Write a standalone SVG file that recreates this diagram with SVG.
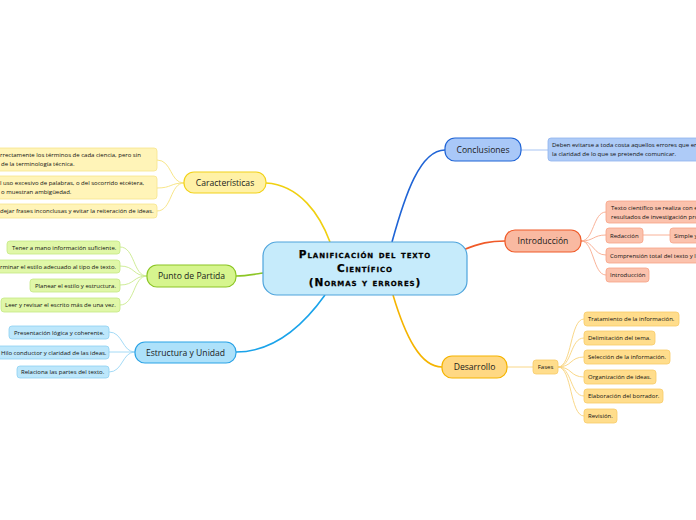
<svg xmlns="http://www.w3.org/2000/svg" width="696" height="520" viewBox="0 0 696 520">
<style>
text{font-family:"Open Sans","Noto Sans","Liberation Sans",sans-serif;fill:#1a1a1a}
.main{font-size:8.6px;text-anchor:middle}
.leaf{font-size:6px;fill:#111}
.title{font-family:"DejaVu Sans","Liberation Sans",sans-serif;font-weight:900;font-variant:small-caps;font-size:10.5px;text-anchor:middle;letter-spacing:0.9px;fill:#000;stroke:#000;stroke-width:0.25}
.c{fill:none;stroke-width:1.6}
.l{fill:none;stroke-width:0.9}
.y{fill:#fff1a6;stroke:#f2d21a;stroke-width:1.2}
.yl{fill:#fff4b8;stroke:#f6e58c;stroke-width:0.8}
.g{fill:#d6f58e;stroke:#8cc625;stroke-width:1.2}
.gl{fill:#e0f7a8;stroke:#c4e884;stroke-width:0.8}
.b{fill:#ade1fa;stroke:#2ba3e6;stroke-width:1.2}
.bl{fill:#bde7fb;stroke:#8dd0f3;stroke-width:0.8}
.d{fill:#a9c8f8;stroke:#1f64d6;stroke-width:1.2}
.dl{fill:#aecbf7;stroke:#8fb3ee;stroke-width:0.8}
.o{fill:#f9b9a1;stroke:#f05a28;stroke-width:1.2}
.ol{fill:#fbc2ad;stroke:#f7a285;stroke-width:0.8}
.a{fill:#ffd883;stroke:#f5b400;stroke-width:1.2}
.al{fill:#ffdd8c;stroke:#f7cb68;stroke-width:0.8}
</style>
<g id="connectors">
<path class="c" stroke="#f0d010" d="M266,183 C300,185 320,215 330,242"/>
<path class="c" stroke="#1f64d6" d="M392,242 C405,195 420,150 445,150"/>
<path class="c" stroke="#f05a28" d="M463,250 C480,243 490,241 505,241"/>
<path class="c" stroke="#8cc625" d="M263,273 C250,275 245,276 236,276"/>
<path class="c" stroke="#1aa3ea" d="M325,295 C300,330 270,352 236,352"/>
<path class="c" stroke="#f5b400" d="M393,295 C405,335 420,367 442,367"/>
<g stroke="#f6e27a">
<path class="l" d="M184,183 C170,183 172,160 157,160"/>
<path class="l" d="M184,183 C170,183 172,188 157,188"/>
<path class="l" d="M184,183 C170,183 172,211 157,211"/>
</g>
<g stroke="#c9ea8c">
<path class="l" d="M147,276 C133,276 135,247 120,247"/>
<path class="l" d="M147,276 C133,276 135,266 120,266"/>
<path class="l" d="M147,276 C133,276 135,285 120,285"/>
<path class="l" d="M147,276 C133,276 135,305 120,305"/>
</g>
<g stroke="#9ad6f5">
<path class="l" d="M135,352 C122,352 123,332 109,332"/>
<path class="l" d="M135,352 L109,352"/>
<path class="l" d="M135,352 C122,352 123,372 109,372"/>
</g>
<path class="l" stroke="#9dbdf2" d="M521,150 L548,150"/>
<g stroke="#f8a98c">
<path class="l" d="M581,241 C594,241 593,212 606,212"/>
<path class="l" d="M581,241 C594,241 593,235 606,235"/>
<path class="l" d="M581,241 C594,241 593,255 606,255"/>
<path class="l" d="M581,241 C594,241 593,275 606,275"/>
<path class="l" d="M643,235 L670,235"/>
</g>
<g stroke="#f8d27a">
<path class="l" d="M507,367 L533,367"/>
<path class="l" d="M558,367 C572,367 570,319 584,319"/>
<path class="l" d="M558,367 C572,367 570,338 584,338"/>
<path class="l" d="M558,367 C572,367 570,357 584,357"/>
<path class="l" d="M558,367 C572,367 570,377 584,377"/>
<path class="l" d="M558,367 C572,367 570,396 584,396"/>
<path class="l" d="M558,367 C572,367 570,416 584,416"/>
</g>
</g>
<g id="center">
<rect x="263" y="242" width="204" height="53" rx="14" fill="#c6ebfb" stroke="#4ea4dc" stroke-width="1.2"/>
<text class="title" x="365" y="258">Planificación del texto</text>
<text class="title" x="365" y="272">Científico</text>
<text class="title" x="365" y="286">(Normas y errores)</text>
</g>
<g id="caracteristicas">
<rect class="y" x="184" y="172" width="82" height="21" rx="10"/>
<text class="main" x="225" y="185.5">Características</text>
</g>
<g id="car1"><rect class="yl" x="-10" y="148" width="167" height="23" rx="3"/><text class="leaf" x="0" y="157">rrectamente los términos de cada ciencia, pero sin</text><text class="leaf" x="1" y="166">de la terminología técnica.</text></g>
<g id="car2"><rect class="yl" x="-10" y="176" width="167" height="23" rx="3"/><text class="leaf" x="0" y="185">l uso excesivo de palabras, o del socorrido etcétera,</text><text class="leaf" x="1" y="194">o muestran ambigüedad.</text></g>
<g id="car3"><rect class="yl" x="-10" y="204" width="167" height="14" rx="3"/><text class="leaf" x="0" y="213">dejar frases inconclusas y evitar la reiteración de ideas.</text></g>
<g id="punto">
<rect class="g" x="147" y="265" width="89" height="22" rx="10"/>
<text class="main" x="191.5" y="279">Punto de Partida</text>
</g>
<g id="p1"><rect class="gl" x="7" y="241" width="113" height="13" rx="3"/><text class="leaf" x="12" y="249.5">Tener a mano información suficiente.</text></g>
<g id="p2"><rect class="gl" x="-10" y="260" width="130" height="13" rx="3"/><text class="leaf" x="0" y="268.5">rminar el estilo adecuado al tipo de texto.</text></g>
<g id="p3"><rect class="gl" x="30" y="279" width="90" height="13" rx="3"/><text class="leaf" x="35" y="287.5">Planear el estilo y estructura.</text></g>
<g id="p4"><rect class="gl" x="1" y="298" width="119" height="14" rx="3"/><text class="leaf" x="5" y="307">Leer y revisar el escrito más de una vez.</text></g>
<g id="estructura">
<rect class="b" x="135" y="342" width="101" height="21" rx="10"/>
<text class="main" x="185.5" y="355.5">Estructura y Unidad</text>
</g>
<g id="e1"><rect class="bl" x="9" y="326" width="100" height="13" rx="3"/><text class="leaf" x="14" y="334.5">Presentación lógica y coherente.</text></g>
<g id="e2"><rect class="bl" x="-10" y="346" width="119" height="13" rx="3"/><text class="leaf" x="1" y="354.5">Hilo conductor y claridad de las ideas.</text></g>
<g id="e3"><rect class="bl" x="17" y="366" width="92" height="12" rx="3"/><text class="leaf" x="21" y="374">Relaciona las partes del texto.</text></g>
<g id="conclusiones">
<rect class="d" x="445" y="138" width="76" height="23" rx="10"/>
<text class="main" x="483" y="152.5">Conclusiones</text>
</g>
<g id="c1"><rect class="dl" x="548" y="138" width="160" height="23" rx="3"/><text class="leaf" x="552" y="147">Deben evitarse a toda costa aquellos errores que en</text><text class="leaf" x="552" y="156">la claridad de lo que se pretende comunicar.</text></g>
<g id="introduccion">
<rect class="o" x="505" y="230" width="76" height="22" rx="10"/>
<text class="main" x="543" y="244">Introducción</text>
</g>
<g id="i1"><rect class="ol" x="606" y="201" width="100" height="22" rx="3"/><text class="leaf" x="611" y="209.5">Texto científico se realiza con e</text><text class="leaf" x="611" y="218.5">resultados de investigación pro</text></g>
<g id="i2"><rect class="ol" x="606" y="228" width="37" height="15" rx="3"/><text class="leaf" x="610" y="237.5">Redacción</text></g>
<g id="i2a"><rect class="ol" x="670" y="228" width="40" height="15" rx="3"/><text class="leaf" x="674" y="237.5">Simple y</text></g>
<g id="i3"><rect class="ol" x="606" y="248" width="100" height="15" rx="3"/><text class="leaf" x="610" y="257.5">Comprensión total del texto y l</text></g>
<g id="i4"><rect class="ol" x="606" y="268" width="43" height="14" rx="3"/><text class="leaf" x="610" y="277">Introducción</text></g>
<g id="desarrollo">
<rect class="a" x="442" y="356" width="65" height="22" rx="10"/>
<text class="main" x="474.5" y="370">Desarrollo</text>
</g>
<g id="fases"><rect class="al" x="533" y="360" width="25" height="14" rx="3"/><text class="leaf" x="545.5" y="369" text-anchor="middle">Fases</text></g>
<g id="f1"><rect class="al" x="584" y="312" width="95" height="14" rx="3"/><text class="leaf" x="588" y="321">Tratamiento de la información.</text></g>
<g id="f2"><rect class="al" x="584" y="331" width="71" height="14" rx="3"/><text class="leaf" x="588" y="340">Delimitación del tema.</text></g>
<g id="f3"><rect class="al" x="584" y="350" width="86" height="14" rx="3"/><text class="leaf" x="588" y="359">Selección de la información.</text></g>
<g id="f4"><rect class="al" x="584" y="370" width="72" height="14" rx="3"/><text class="leaf" x="588" y="379">Organización de ideas.</text></g>
<g id="f5"><rect class="al" x="584" y="389" width="79" height="14" rx="3"/><text class="leaf" x="588" y="398">Elaboración del borrador.</text></g>
<g id="f6"><rect class="al" x="584" y="409" width="33" height="14" rx="3"/><text class="leaf" x="588" y="418">Revisión.</text></g>
</svg>
